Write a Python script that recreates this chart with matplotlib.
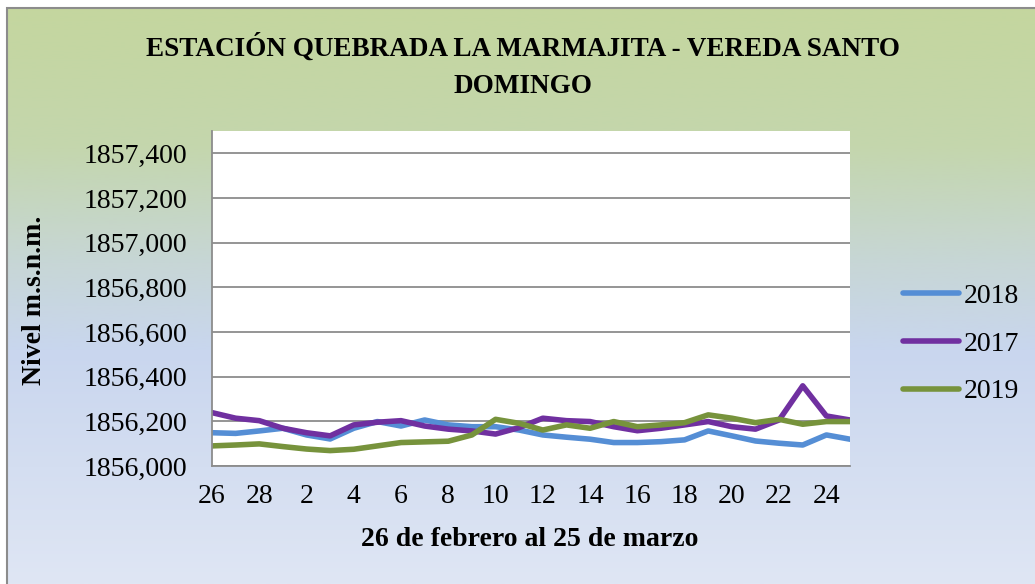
import numpy as np
import matplotlib
matplotlib.use("Agg")
import matplotlib.pyplot as plt
from matplotlib.patches import Rectangle
from matplotlib.colors import LinearSegmentedColormap

days = ["26", "27", "28", "1", "2", "3", "4", "5", "6", "7", "8", "9", "10", "11",
        "12", "13", "14", "15", "16", "17", "18", "19", "20", "21", "22", "23", "24", "25"]

y2018 = [1856149, 1856146, 1856157, 1856169, 1856139, 1856121, 1856169, 1856199, 1856179, 1856206,
         1856184, 1856176, 1856176, 1856161, 1856139, 1856129, 1856120, 1856105, 1856105, 1856109,
         1856117, 1856157, 1856135, 1856112, 1856102, 1856094, 1856139, 1856120]
y2017 = [1856239, 1856214, 1856203, 1856169, 1856149, 1856135, 1856184, 1856196, 1856203, 1856179,
         1856165, 1856157, 1856143, 1856172, 1856214, 1856203, 1856199, 1856176, 1856158, 1856169,
         1856184, 1856199, 1856176, 1856165, 1856206, 1856359, 1856224, 1856206]
y2019 = [1856090, 1856094, 1856099, 1856087, 1856076, 1856069, 1856075, 1856090, 1856105, 1856108,
         1856111, 1856139, 1856209, 1856191, 1856161, 1856184, 1856169, 1856199, 1856176, 1856184,
         1856194, 1856229, 1856214, 1856194, 1856209, 1856187, 1856199, 1856199]

series = [("2018", y2018, "#558ED5"), ("2017", y2017, "#7030A0"), ("2019", y2019, "#77933C")]

yticks = [1856000, 1856200, 1856400, 1856600, 1856800, 1857000, 1857200, 1857400]

serif = ["Liberation Serif", "DejaVu Serif"]
FS = 20

W, H = 1035, 584
fig = plt.figure(figsize=(W / 100, H / 100), dpi=100)

# background gradient
bg = fig.add_axes([0, 0, 1, 1], zorder=-10)
cmap = LinearSegmentedColormap.from_list(
    "g", [(0.0, "#c4d79e"), (0.25, "#c4d6ad"), (0.45, "#c7d6d6"), (0.6, "#c9d6ee"), (1.0, "#dfe6f4")])
grad = np.linspace(0, 1, 256).reshape(-1, 1)
bg.imshow(grad, aspect="auto", cmap=cmap, extent=[0, 1, 0, 1], origin="upper")
bg.set_xlim(0, 1)
bg.set_ylim(0, 1)
bg.axis("off")
bg.add_patch(Rectangle((0, 1 - 8 / H), 1, 8 / H, facecolor="white", edgecolor="none", zorder=2))
bg.add_patch(Rectangle((0, 0), 7 / W, 1, facecolor="white", edgecolor="none", zorder=2))
bg.add_patch(Rectangle((7 / W, -0.01), 1.02, 1 - 8 / H + 0.01, facecolor="none",
                       edgecolor="#8c8c8c", linewidth=1.5, zorder=3))

# main axes: left 212, right 850, top 131, bottom 466
L, R, T, B = 212, 850, 131, 466
ax = fig.add_axes([L / W, 1 - B / H, (R - L) / W, (B - T) / H])
ax.set_facecolor("white")
x = np.arange(len(days))
for name, vals, col in series:
    ax.plot(x, vals, color=col, linewidth=4.0, label=name)

ax.set_xlim(0, len(days) - 1)
ax.set_ylim(1856000, 1857500)
ax.set_yticks(yticks)
ax.set_yticklabels([f"{v // 1000},{v % 1000:03d}" for v in yticks])
ax.set_xticks(x[::2])
ax.set_xticklabels(days[::2])
ax.grid(axis="y", color="#8c8c8c", linewidth=1.3)
ax.set_axisbelow(True)
for s in ["top", "right"]:
    ax.spines[s].set_visible(False)
for s in ["left", "bottom"]:
    ax.spines[s].set_color("#8c8c8c")
    ax.spines[s].set_linewidth(1.3)
ax.tick_params(axis="y", length=0, labelsize=FS, pad=18)
ax.tick_params(axis="x", length=0, labelsize=FS, pad=13)
for lab in ax.get_xticklabels() + ax.get_yticklabels():
    lab.set_family(serif)

ax.set_ylabel("Nivel m.s.n.m.", fontsize=FS, fontweight="bold", family=serif)
ax.yaxis.set_label_coords((35 - L) / (R - L), (B - 300) / (B - T))
ax.set_xlabel("26 de febrero al 25 de marzo", fontsize=FS, fontweight="bold", family=serif)
ax.xaxis.set_label_coords((530 - L) / (R - L), (B - 540) / (B - T))
ax.xaxis.label.set_va("center")
ax.yaxis.label.set_va("center")

fig.text(523 / W, 1 - 66 / H, "ESTACIÓN QUEBRADA LA MARMAJITA - VEREDA SANTO\nDOMINGO",
         ha="center", va="center", fontsize=19.5, fontweight="bold", family=serif, linespacing=1.65)

leg = ax.legend(loc="center left", bbox_to_anchor=((903 - L) / (R - L), (B - 344) / (B - T)),
                frameon=False, prop={"family": serif, "size": FS}, handlelength=2.0,
                handletextpad=0.2, labelspacing=0.8, borderpad=0, borderaxespad=0)
for lh in leg.get_lines():
    lh.set_linewidth(4)
    lh.set_solid_capstyle("round")

fig.savefig("out.png", dpi=100)
